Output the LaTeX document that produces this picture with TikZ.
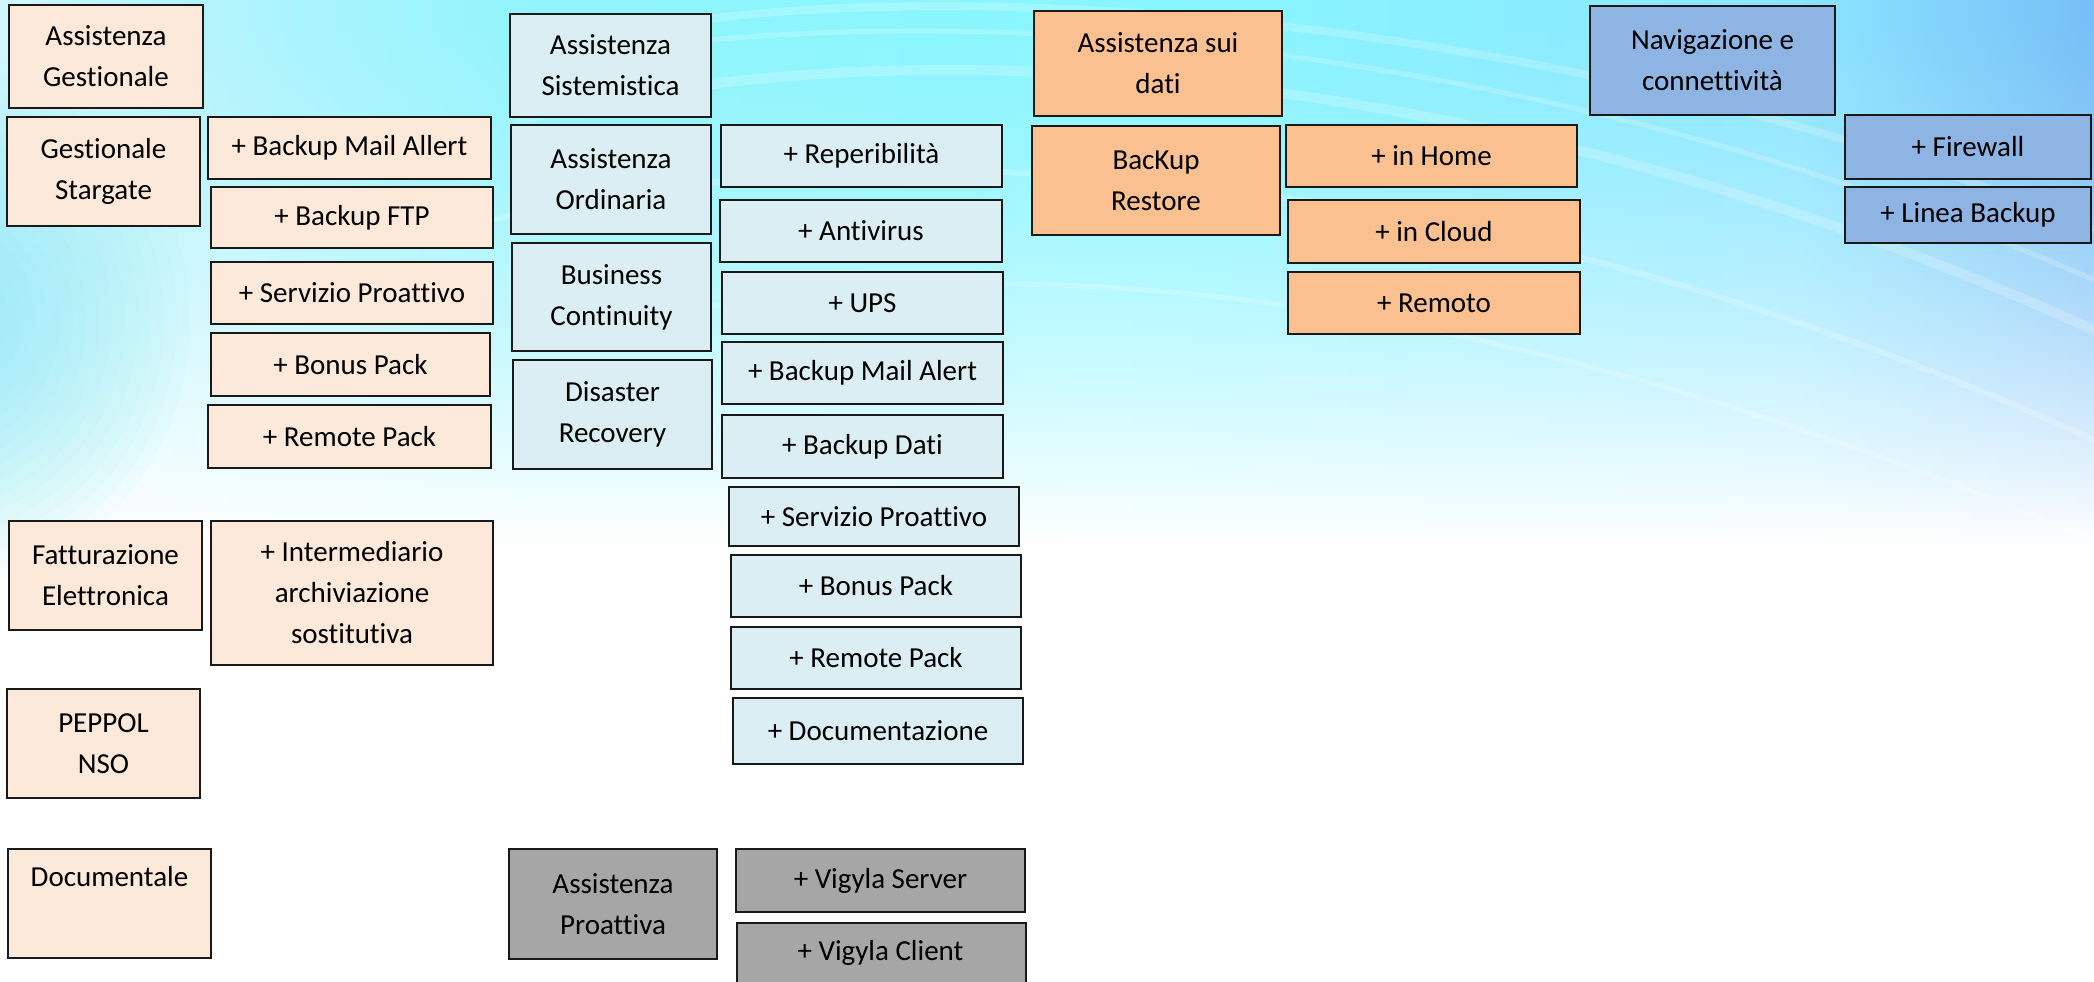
\documentclass[tikz,border=0pt]{standalone}
\usepackage{fontspec}
\setmainfont{Carlito}[Ligatures={NoCommon}]
\definecolor{peach}{HTML}{FDE9D9}
\definecolor{lblue}{HTML}{DBEEF4}
\definecolor{orng}{HTML}{FAC090}
\definecolor{nblue}{HTML}{8EB4E3}
\definecolor{gry}{HTML}{A6A6A6}
\definecolor{cyanedge}{HTML}{6EE6F8}
\definecolor{s0}{HTML}{7EE6F6}
\definecolor{s1}{HTML}{A8EEFA}
\definecolor{s2}{HTML}{F0FCFF}
\definecolor{s3}{HTML}{E8FBFF}
\definecolor{s4}{HTML}{B8F4FC}
\definecolor{s5}{HTML}{90F4FC}
\definecolor{s6}{HTML}{88F6FF}
\definecolor{s7}{HTML}{8CE6FF}
\definecolor{s8}{HTML}{70B4F4}
\definecolor{s9}{HTML}{5898E0}
\definecolor{s10}{HTML}{5A96DC}
\pgfdeclarehorizontalshading{skyshade}{100bp}{color(0bp)=(s0); color(5bp)=(s1); color(12bp)=(s2); color(21bp)=(s3); color(29bp)=(s4); color(38bp)=(s5); color(53bp)=(s6); color(68bp)=(s7); color(77bp)=(s8); color(89bp)=(s9); color(100bp)=(s10)}
\tikzset{
  box/.style={draw=black!90, line width=2pt, inner sep=0pt, align=center,
    font=\fontsize{29}{41}\selectfont, text=black},
}
\newcommand\mybox[7]{%
  \pgfmathsetmacro\bw{#4-#3}\pgfmathsetmacro\bh{#6-#5}%
  \pgfmathsetmacro\bcx{(#3+#4)/2}\pgfmathsetmacro\bcy{(#5+#6)/2}%
  \node[box, fill=#2, minimum width=\bw pt, minimum height=\bh pt] (#1) at (\bcx,\bcy) {#7};}
\begin{document}
\begin{tikzpicture}[x=1pt,y=-1pt]
\useasboundingbox (0,0) rectangle (2094,982);
\clip (0,0) rectangle (2094,982);
\fill[white] (0,0) rectangle (2094,982);
\shade[shading=skyshade] (0,0) rectangle (2094,600);
% streaks
\begin{scope}[white, opacity=0.2, line cap=round]
  \draw[line width=10pt] (520,120) .. controls (900,20) and (1500,60) .. (2094,330);
  \draw[line width=6pt] (450,230) .. controls (900,110) and (1500,170) .. (2094,440);
  \draw[line width=8pt] (700,20) .. controls (1000,-20) and (1600,20) .. (2094,230);
  \draw[line width=5pt] (600,330) .. controls (1000,230) and (1500,290) .. (2094,540);
  \draw[line width=5pt] (560,60) .. controls (950,-10) and (1550,40) .. (2094,280);
\end{scope}
% fade to white downwards
\foreach \i in {0,...,80} {
  \pgfmathsetmacro\op{min(1,(\i/68)^1.5)}
  \fill[white, opacity=\op] (0,\i*8) rectangle (2094,\i*8+8);
}
% cyan glow on the left edge
\foreach \r in {1,...,20} {
  \fill[cyanedge, opacity=0.045] (-70,320) ellipse ({13*\r} and {13.5*\r});
}
% peach column
\mybox{ag}{peach}{9}{203}{5}{108}{Assistenza\\Gestionale}
\mybox{gs}{peach}{7}{200}{117}{226}{Gestionale\\Stargate}
\mybox{bma}{peach}{208}{491}{117}{179}{+ Backup Mail Allert}
\mybox{ftp}{peach}{211}{493}{187}{248}{+ Backup FTP}
\mybox{spa}{peach}{211}{493}{262}{324}{+ Servizio Proattivo}
\mybox{bpa}{peach}{211}{490}{333}{396}{+ Bonus Pack}
\mybox{rpa}{peach}{208}{491}{405}{468}{+ Remote Pack}
\mybox{fe}{peach}{9}{202}{521}{630}{Fatturazione\\Elettronica}
\mybox{inter}{peach}{211}{493}{521}{665}{+ Intermediario\\archiviazione\\sostitutiva}
\mybox{peppol}{peach}{7}{200}{689}{798}{PEPPOL\\NSO}
\mybox{docu}{peach}{8}{211}{849}{958}{Documentale\\\strut}
% light blue column
\mybox{as}{lblue}{510}{711}{14}{117}{Assistenza\\Sistemistica}
\mybox{ao}{lblue}{511}{711}{125}{234}{Assistenza\\Ordinaria}
\mybox{bc}{lblue}{512}{711}{243}{351}{Business\\Continuity}
\mybox{dr}{lblue}{513}{712}{360}{469}{Disaster\\Recovery}
\mybox{rep}{lblue}{721}{1002}{125}{187}{+ Reperibilità}
\mybox{av}{lblue}{720}{1002}{200}{262}{+ Antivirus}
\mybox{ups}{lblue}{722}{1003}{272}{334}{+ UPS}
\mybox{bmb}{lblue}{722}{1003}{342}{404}{+ Backup Mail Alert}
\mybox{bd}{lblue}{722}{1003}{415}{478}{+ Backup Dati}
\mybox{spb}{lblue}{729}{1019}{487}{546}{+ Servizio Proattivo}
\mybox{bpb}{lblue}{731}{1021}{555}{617}{+ Bonus Pack}
\mybox{rpb}{lblue}{731}{1021}{627}{689}{+ Remote Pack}
\mybox{docb}{lblue}{733}{1023}{698}{764}{+ Documentazione}
% gray
\mybox{apro}{gry}{509}{717}{849}{959}{Assistenza\\Proattiva}
\mybox{vs}{gry}{736}{1025}{849}{912}{+ Vigyla Server}
\node[box, fill=gry, minimum width=289pt, minimum height=75pt, anchor=north west] (vc) at (736,922) {};
\node[font=\fontsize{29}{41}\selectfont] (vct) at (880.5,953) {+ Vigyla Client};
% orange
\mybox{asd}{orng}{1034}{1282}{11}{116}{Assistenza sui\\dati}
\mybox{bkr}{orng}{1032}{1280}{126}{235}{BacKup\\Restore}
\mybox{home}{orng}{1286}{1577}{125}{187}{+ in Home}
\mybox{cloud}{orng}{1288}{1580}{200}{263}{+ in Cloud}
\mybox{remoto}{orng}{1288}{1580}{272}{334}{+ Remoto}
% blue
\mybox{nav}{nblue}{1590}{1835}{6}{115}{Navigazione e\\connettività}
\mybox{fw}{nblue}{1845}{2091}{115}{179}{+ Firewall}
\mybox{lb}{nblue}{1845}{2091}{187}{243}{+ Linea Backup}
\end{tikzpicture}
\end{document}
